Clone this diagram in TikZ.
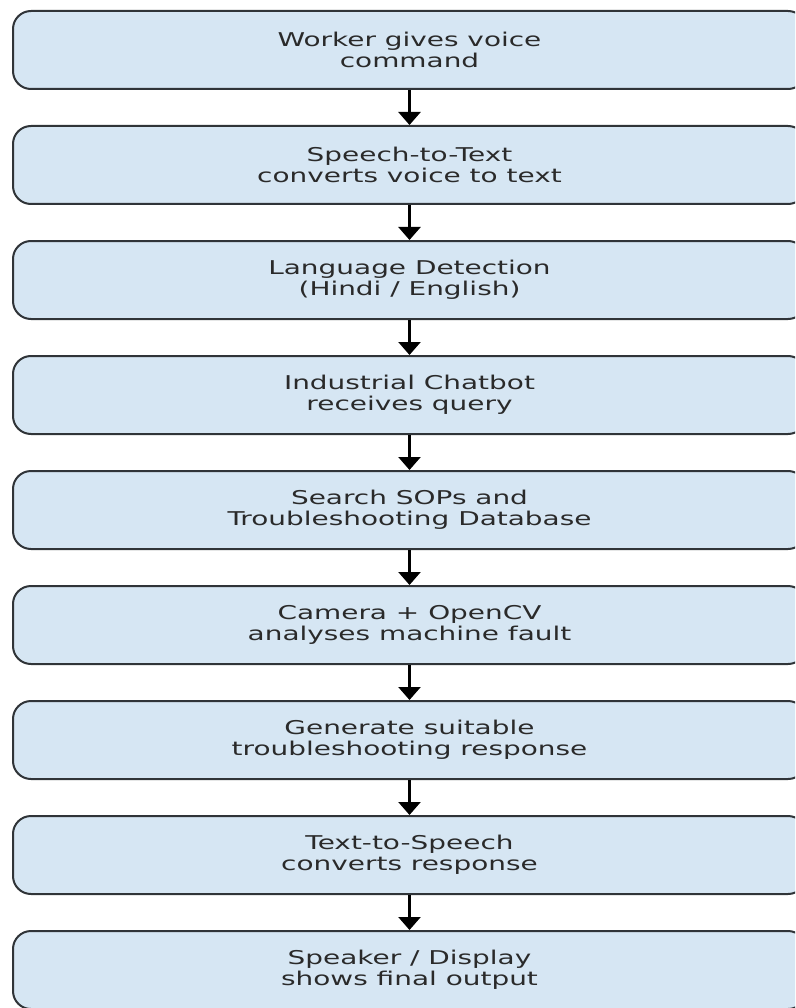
\documentclass[tikz,border=0pt]{standalone}
\usepackage{fontspec}
\setmainfont[FakeStretch=1.47]{DejaVu Sans}
\usetikzlibrary{arrows.meta}
\definecolor{boxfill}{HTML}{D6E6F3}
\definecolor{boxline}{HTML}{303438}
\definecolor{txt}{HTML}{2A2A2A}
\begin{document}
\begin{tikzpicture}[x=1pt,y=-1pt,
  stepbox/.style={draw=boxline, line width=2pt, fill=boxfill, rounded corners=18pt,
    minimum width=793pt, minimum height=78pt, align=center,
    font=\fontsize{19}{21}\selectfont, text=txt, inner sep=0pt},
  flow/.style={-{Triangle[width=22pt,length=13pt]}, line width=2.5pt, black}]
\useasboundingbox (0,0) rectangle (795,1008);
\clip (0,0) rectangle (795,1008);
\node[stepbox] (s1) at (409.5,50)  {Worker gives voice\\command};
\node[stepbox] (s2) at (409.5,165) {Speech-to-Text\\converts voice to text};
\node[stepbox] (s3) at (409.5,280) {Language Detection\\(Hindi / English)};
\node[stepbox] (s4) at (409.5,395) {Industrial Chatbot\\receives query};
\node[stepbox] (s5) at (409.5,510) {Search SOPs and\\Troubleshooting Database};
\node[stepbox] (s6) at (409.5,625) {Camera + OpenCV\\analyses machine fault};
\node[stepbox] (s7) at (409.5,740) {Generate suitable\\troubleshooting response};
\node[stepbox] (s8) at (409.5,855) {Text-to-Speech\\converts response};
\node[stepbox] (s9) at (409.5,970) {Speaker / Display\\shows final output};
\draw[flow] (s1) -- (s2);
\draw[flow] (s2) -- (s3);
\draw[flow] (s3) -- (s4);
\draw[flow] (s4) -- (s5);
\draw[flow] (s5) -- (s6);
\draw[flow] (s6) -- (s7);
\draw[flow] (s7) -- (s8);
\draw[flow] (s8) -- (s9);
\end{tikzpicture}
\end{document}
